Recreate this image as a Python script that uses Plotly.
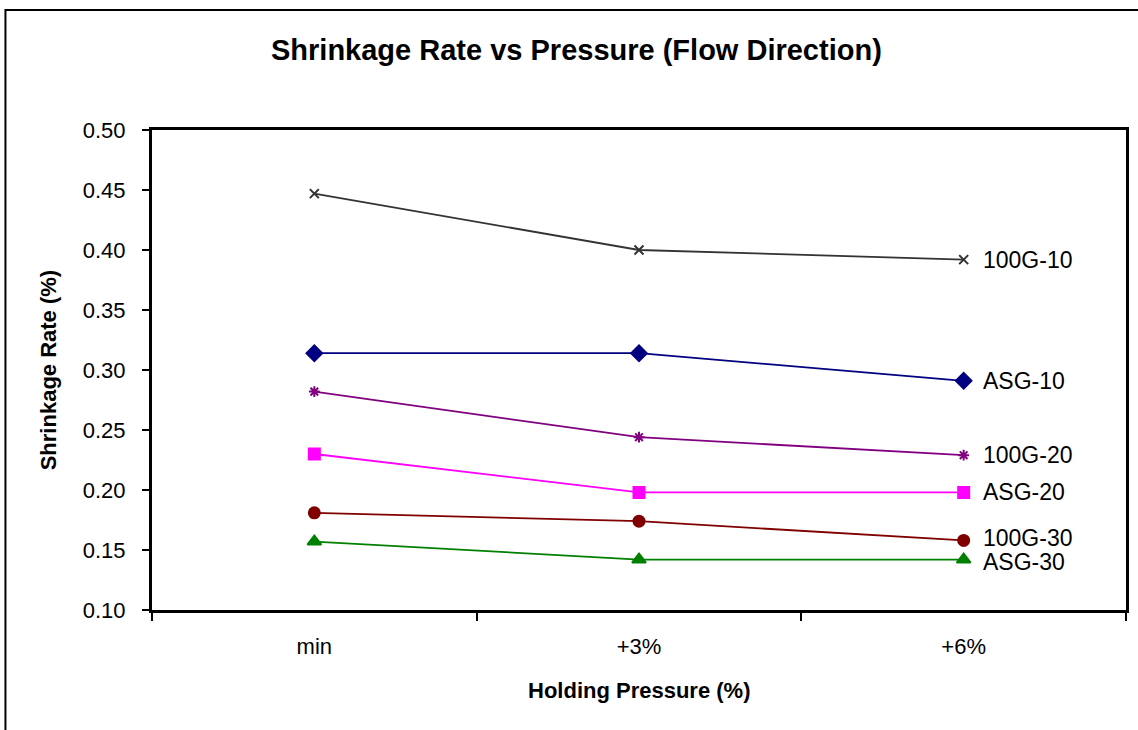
import plotly.graph_objects as go

categories = ["min", "+3%", "+6%"]
series_names = ["100G-10", "ASG-10", "100G-20", "ASG-20", "100G-30", "ASG-30"]
v_100g_10 = [0.447, 0.400, 0.392]
v_asg_10 = [0.314, 0.314, 0.291]
v_100g_20 = [0.282, 0.244, 0.229]
v_asg_20 = [0.230, 0.198, 0.198]
v_100g_30 = [0.181, 0.174, 0.158]
v_asg_30 = [0.157, 0.142, 0.142]
y_ticks = [0.10, 0.15, 0.20, 0.25, 0.30, 0.35, 0.40, 0.45, 0.50]

values = [v_100g_10, v_asg_10, v_100g_20, v_asg_20, v_100g_30, v_asg_30]
colors = ["#333333", "#000080", "#800080", "#FF00FF", "#800000", "#008000"]
symbols = ["x-thin-open", "diamond", "asterisk-open", "square", "circle", "triangle-up"]
sizes = [9, 12, 9, 11, 11, 12]
label_yshift = [0, 0, 0, 0, 2, -2]

W, H = 1138, 730
L, R, T, B = 152, 9, 130, 120
pw, ph = W - L - R, H - T - B
FONT = "Liberation Sans, Arial"

fig = go.Figure()
for name, vals, c, s, sz, ys in zip(series_names, values, colors, symbols, sizes, label_yshift):
    fig.add_trace(go.Scatter(
        x=categories, y=vals, mode="lines+markers", name=name,
        line=dict(color=c, width=1.8),
        marker=dict(symbol=s, size=sz, color=c, line=dict(color=c, width=2)),
        showlegend=False,
    ))
    fig.add_annotation(x=categories[-1], y=vals[-1], xref="x", yref="y",
                       text=name, showarrow=False, xanchor="left", yanchor="middle",
                       xshift=17, yshift=ys, font=dict(family=FONT, size=23, color="#000"))

fig.add_shape(type="rect", xref="paper", yref="paper",
              x0=(5 - L) / pw, x1=(W + 10 - L) / pw,
              y0=(H - B - (H + 10)) / ph, y1=(H - B - 10) / ph,
              line=dict(color="black", width=2), layer="below")

fig.add_annotation(xref="paper", yref="paper", x=(578 - L) / pw, y=(H - B - 50) / ph,
                   text="<b>Shrinkage Rate vs Pressure (Flow Direction)</b>", showarrow=False,
                   xanchor="center", yanchor="middle",
                   font=dict(family=FONT, size=29, color="#000"))

fig.add_annotation(xref="paper", yref="paper", x=(640 - L) / pw, y=(H - B - 690) / ph,
                   text="<b>Holding Pressure (%)</b>", showarrow=False,
                   xanchor="center", yanchor="middle",
                   font=dict(family=FONT, size=22, color="#000"))

fig.add_annotation(xref="paper", yref="paper", x=(48 - L) / pw, y=(H - B - 370) / ph,
                   text="<b>Shrinkage Rate (%)</b>", showarrow=False, textangle=-90,
                   xanchor="center", yanchor="middle",
                   font=dict(family=FONT, size=22, color="#000"))

fig.update_layout(
    width=W, height=H,
    margin=dict(l=L, r=R, t=T, b=B),
    paper_bgcolor="white", plot_bgcolor="white",
    font=dict(family=FONT, size=22, color="#000"),
    xaxis=dict(type="category", range=[-0.5, 2.5], tickson="boundaries", ticks="outside", ticklen=8,
               tickwidth=1.5, tickcolor="black", showline=True, linecolor="black",
               linewidth=3, mirror=True, showgrid=False, zeroline=False,
               tickfont=dict(size=22), ticklabelstandoff=15),
    yaxis=dict(range=[0.10, 0.50], tickvals=y_ticks, tickformat=".2f", ticks="outside",
               ticklen=7, tickwidth=1.5, tickcolor="black", showline=True, linecolor="black",
               linewidth=3, mirror=True, showgrid=False, zeroline=False,
               tickfont=dict(size=22), ticklabelstandoff=12),
)

fig.write_html("out.html")
